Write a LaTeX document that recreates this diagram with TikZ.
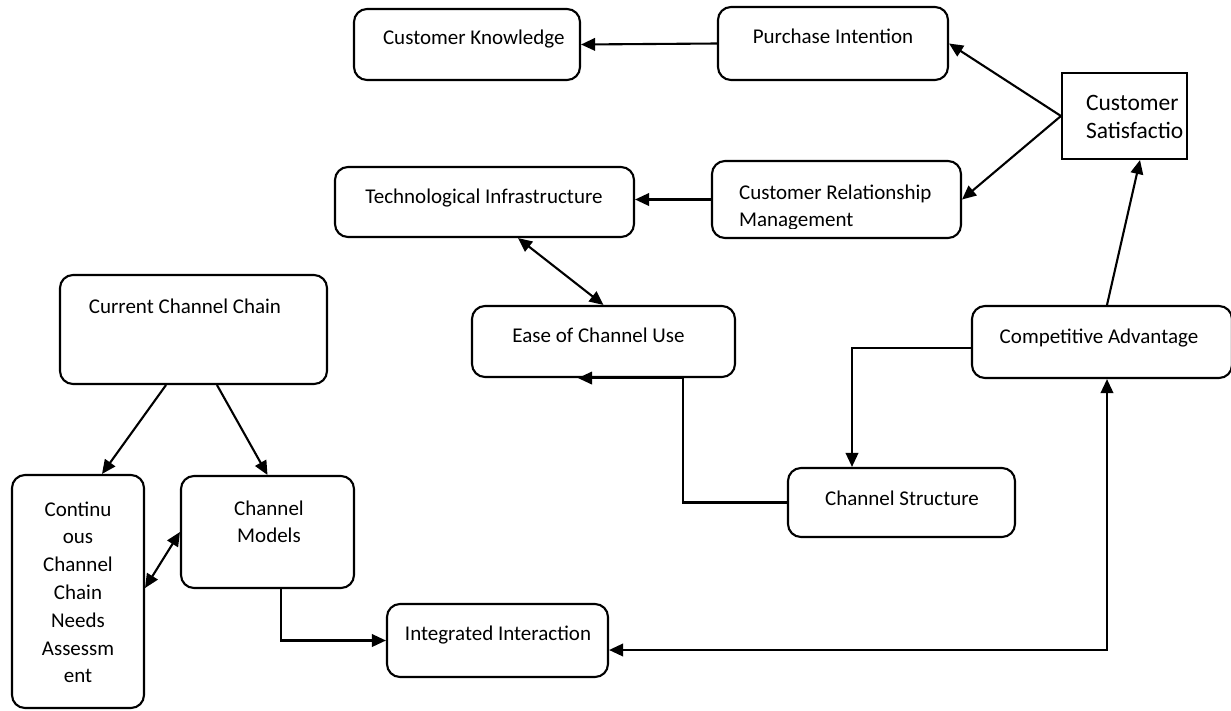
\documentclass[tikz,border=0pt]{standalone}
\usepackage{fontspec}
\setmainfont{Carlito}
\usetikzlibrary{arrows.meta}
\begin{document}
\begin{tikzpicture}[x=1pt,y=-1pt, line width=2.1pt,
  box/.style={draw, rounded corners=13pt, inner sep=0pt},
  sqbox/.style={draw, inner sep=0pt},
  lbl/.style={font=\fontsize{21}{27.8}\selectfont, inner sep=0pt},
  biglbl/.style={font=\fontsize{23.5}{28}\selectfont, inner sep=0pt},
  arr/.style={-{Triangle[length=14pt,width=12.5pt]}},
  darr/.style={{Triangle[length=14pt,width=12.5pt]}-{Triangle[length=14pt,width=12.5pt]}}]
\useasboundingbox (0,0) rectangle (1231,710);
% boxes
\node[box, minimum width=226pt, minimum height=71pt] (ck) at (467,44.5) {};
\node[box, minimum width=230pt, minimum height=73pt] (pi) at (833,43.5) {};
\node[sqbox, minimum width=125pt, minimum height=86pt] (cs) at (1124.5,116) {};
\node[box, minimum width=249pt, minimum height=77pt] (crm) at (836.5,199.5) {};
\node[box, minimum width=299pt, minimum height=70pt] (ti) at (484.5,202) {};
\node[box, minimum width=263pt, minimum height=71pt] (ease) at (603.5,341.5) {};
\node[box, minimum width=260pt, minimum height=72pt] (ca) at (1102,342) {};
\node[box, minimum width=227pt, minimum height=69pt] (cstr) at (901.5,502.5) {};
\node[box, minimum width=267pt, minimum height=109pt] (ccc) at (193.5,329.5) {};
\node[box, minimum width=132pt, minimum height=233pt] (ccna) at (78,591.5) {};
\node[box, minimum width=173pt, minimum height=112pt] (cm) at (267.5,532) {};
\node[box, minimum width=221pt, minimum height=73pt] (ii) at (497.5,640.5) {};
% texts
\node[lbl, anchor=base west] (ckt) at (382,44) {Customer Knowledge};
\node[lbl, anchor=base] (pit) at (833,43) {Purchase Intention};
\node[biglbl, anchor=north west, align=left] (cst) at (1085,89.4) {\strut Customer\\Satisfactio};
\begin{scope}
\clip (714,163) rectangle (959,228.5);
\node[lbl, anchor=north west, align=left] (crmt) at (738,178.5) {\strut Customer Relationship\\Management};
\end{scope}
\node[lbl, anchor=base] (tit) at (484,203) {Technological Infrastructure};
\node[lbl, anchor=base] (easet) at (598.5,342) {Ease of Channel Use};
\node[lbl, anchor=base] (cat) at (1099,343) {Competitive Advantage};
\node[lbl, anchor=base] (cstrt) at (902,505) {Channel Structure};
\node[lbl, anchor=base] (ccct) at (185,313) {Current Channel Chain};
\node[lbl, anchor=north, align=center] (ccnat) at (78,495.5) {\strut Continu\\ous\\Channel\\Chain\\Needs\\Assessm\\ent};
\node[lbl, anchor=north, align=center] (cmt) at (269,494.5) {\strut Channel\\Models};
\node[lbl, anchor=base] (iit) at (498,640) {Integrated Interaction};
% connectors
\draw[arr] (pi.west) -- (ck.east);
\draw[arr] (cs.west) -- (pi.east);
\draw[arr] (cs.west) -- (crm.east);
\draw[arr] (crm.west) -- (crm.west -| ti.east);
\draw[darr] ([xshift=33.5pt]ti.south) -- (ease.north);
\draw[arr] ([xshift=-27.5pt]ccc.south) -- ([xshift=24pt]ccna.north);
\draw[arr] ([xshift=23.5pt]ccc.south) -- (cm.north);
\draw[darr] ([yshift=3.5pt]ccna.east) -- (cm.west);
\draw[arr] ([xshift=13.5pt]cm.south) |- (ii.west);
\draw[darr] ([yshift=-9.5pt]ii.east) -| ([xshift=5pt]ca.south);
\draw[arr] ([xshift=5pt]ca.north) -- ([xshift=15.5pt]cs.south);
\draw[arr] ([yshift=-6pt]ca.west) -| ([xshift=-49.5pt]cstr.north);
\draw[arr] (cstr.west) -| ([xshift=79.5pt]ease.south) -- ([xshift=-25.5pt]ease.south);
\end{tikzpicture}
\end{document}
